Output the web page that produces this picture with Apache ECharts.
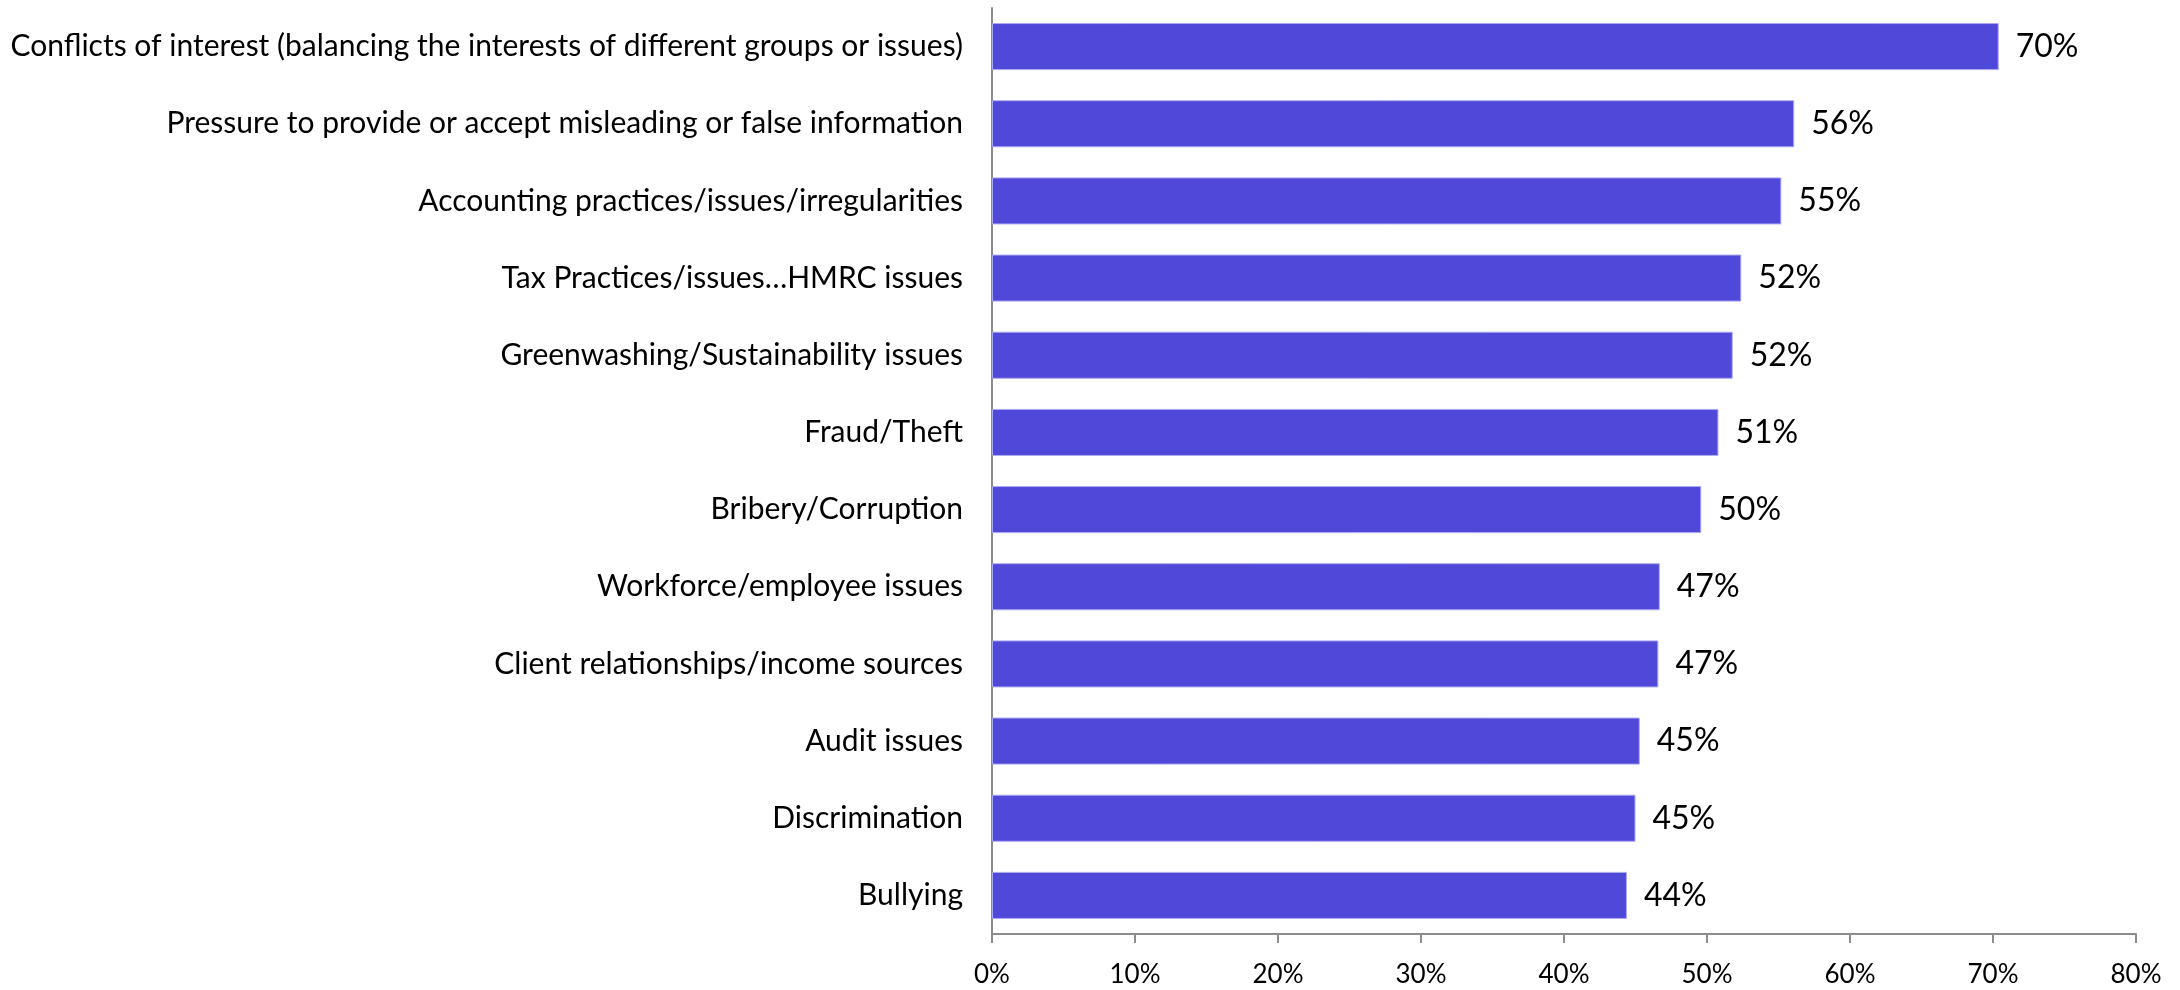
<!DOCTYPE html>
<html>
<head>
<meta charset="utf-8">
<title>Ethical issues</title>
<script src="https://cdn.jsdelivr.net/npm/echarts@6/dist/echarts.min.js"></script>
<style>
  html, body { margin: 0; padding: 0; background: #ffffff; }
  #chart { width: 2180px; height: 990px; }
</style>
</head>
<body>
<div id="chart"></div>
<script>
// Issue categories, top to bottom
const categories = [
  'Conflicts of interest (balancing the interests of different groups or issues)',
  'Pressure to provide or accept misleading or false information',
  'Accounting practices/issues/irregularities',
  'Tax Practices/issues\u2026HMRC issues',
  'Greenwashing/Sustainability issues',
  'Fraud/Theft',
  'Bribery/Corruption',
  'Workforce/employee issues',
  'Client relationships/income sources',
  'Audit issues',
  'Discrimination',
  'Bullying'
];

// Share of respondents (%) per category
const shares = [70.4, 56.1, 55.2, 52.4, 51.8, 50.8, 49.6, 46.7, 46.6, 45.3, 45.0, 44.4];

// Value axis ticks
const axisMin = 0;
const axisMax = 80;
const axisStep = 10;

const FONT = 'Lato, "Open Sans", sans-serif';

const chart = echarts.init(document.getElementById('chart'), null, { renderer: 'canvas' });

chart.setOption({
  animation: false,
  backgroundColor: '#ffffff',
  grid: { left: 992, right: 44, top: 8, bottom: 56, containLabel: false },
  xAxis: {
    type: 'value',
    min: axisMin,
    max: axisMax,
    interval: axisStep,
    axisLine: { show: true, lineStyle: { color: '#8c8c8c', width: 2 } },
    axisTick: { show: true, length: 9, lineStyle: { color: '#8c8c8c', width: 2 } },
    splitLine: { show: false },
    axisLabel: {
      formatter: v => v + '%',
      color: '#000000',
      fontFamily: FONT,
      fontSize: 26,
      margin: 28
    }
  },
  yAxis: {
    type: 'category',
    data: categories,
    inverse: true,
    axisLine: { show: true, lineStyle: { color: '#8c8c8c', width: 2 } },
    axisTick: { show: false },
    axisLabel: {
      color: '#000000',
      fontFamily: FONT,
      fontSize: 30,
      margin: 29
    }
  },
  series: [{
    type: 'bar',
    data: shares,
    barCategoryGap: '39%',
    itemStyle: { color: '#4f48d8', borderColor: '#aeaaf0', borderWidth: 1 },
    label: {
      show: true,
      position: 'right',
      distance: 17,
      formatter: p => Math.round(p.value) + '%',
      color: '#000000',
      fontFamily: FONT,
      fontSize: 32
    }
  }]
});
</script>
</body>
</html>
